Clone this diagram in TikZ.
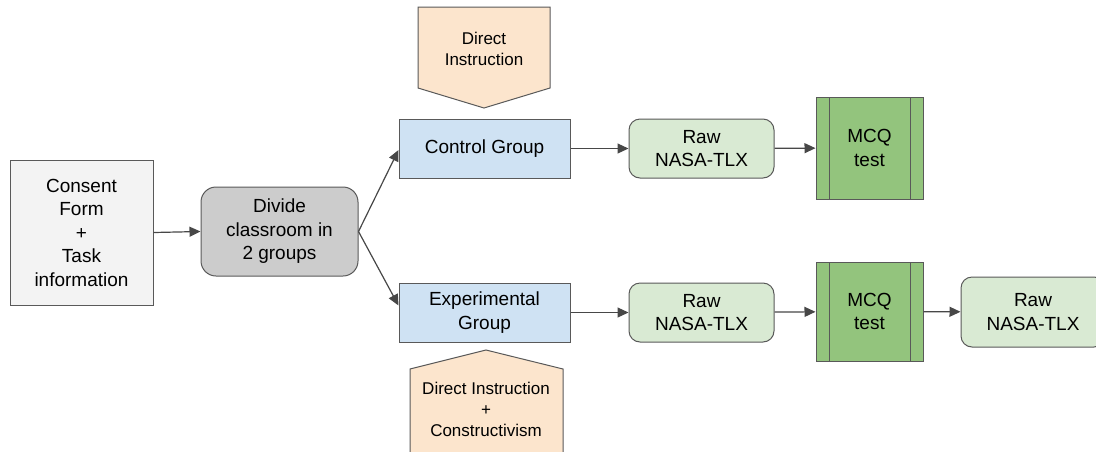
\documentclass[tikz,border=0pt]{standalone}
\usepackage{fontspec}
\setmainfont{Liberation Sans}
\usetikzlibrary{arrows.meta}
\definecolor{edgegray}{HTML}{595959}
\definecolor{consentfill}{HTML}{F3F3F3}
\definecolor{dividefill}{HTML}{CCCCCC}
\definecolor{groupfill}{HTML}{CFE2F3}
\definecolor{tlxfill}{HTML}{D9EAD3}
\definecolor{mcqfill}{HTML}{93C47D}
\definecolor{teachfill}{HTML}{FCE5CD}
\begin{document}
\begin{tikzpicture}[x = 1pt, y = -1pt,
	font = \fontsize{19}{23.5}\selectfont,
	box/.style = {draw = edgegray, line width = 1pt, align = center, inner sep = 2pt},
	tlx/.style = {box, fill = tlxfill, rounded corners = 11pt, minimum width = 145pt, minimum height = 59pt},
	mcq/.style = {box, fill = mcqfill, minimum width = 107pt,
		path picture = {\draw[edgegray, line width = 1pt]
			([xshift = 13pt]path picture bounding box.north west) -- ([xshift = 13pt]path picture bounding box.south west)
			([xshift = -13pt]path picture bounding box.north east) -- ([xshift = -13pt]path picture bounding box.south east);}},
	flow/.style = {draw = edgegray!80!black, line width = 1.2pt, -{Triangle[length = 11pt, width = 10pt]}},
	teach/.style = {draw = edgegray, line width = 1pt, fill = teachfill}]
	\useasboundingbox (0,0) rectangle (1096,451);
	% start and split
	\node[box, fill = consentfill, minimum width = 143pt, minimum height = 145pt] (consent) at (81.5,232.5) {Consent\\Form\\+\\Task\\information};
	\node[box, fill = dividefill, rounded corners = 15pt, minimum width = 157pt, minimum height = 89pt] (divide) at (279.5,231.5) {Divide\\classroom in\\2 groups};
	\node[box, fill = groupfill, minimum width = 171pt, minimum height = 59pt] (control) at (484.5,148.5) {Control Group};
	\node[box, fill = groupfill, minimum width = 171pt, minimum height = 59pt] (experimental) at (484.5,312.5) {Experimental\\Group};
	% teaching methods
	\draw[teach] (418,7) -- (550,7) -- (550,88) -- (484,108) -- (418,88) -- cycle;
	\node[font = \fontsize{17}{20.5}\selectfont, align = center] (direct) at (484,49) {Direct\\Instruction};
	\draw[teach] (486,350) -- (563,369) -- (563,460) -- (410,460) -- (410,369) -- cycle;
	\node[font = \fontsize{17}{21}\selectfont, align = center] (mixed) at (486,409) {Direct Instruction\\+\\Constructivism};
	% measurements
	\node[tlx] (tlxA) at (701.5,148.5) {Raw\\NASA-TLX};
	\node[tlx] (tlxB) at (701.5,312.5) {Raw\\NASA-TLX};
	\node[mcq, minimum height = 102pt] (mcqA) at (869.5,148) {MCQ\\test};
	\node[mcq, minimum height = 99pt] (mcqB) at (869.5,311.5) {MCQ\\test};
	\node[tlx, minimum width = 144pt, minimum height = 70pt] (tlxC) at (1033,312) {Raw\\NASA-TLX};
	% arrows
	\draw[flow] (consent.east) -- (divide.west);
	\draw[flow] (divide.east) -- ([yshift = -1.5pt]control.west);
	\draw[flow] (divide.east) -- ([yshift = 7pt]experimental.west);
	\draw[flow] (control) -- (tlxA);
	\draw[flow] (tlxA) -- (mcqA);
	\draw[flow] (experimental) -- (tlxB);
	\draw[flow] (tlxB) -- (mcqB);
	\draw[flow] (mcqB) -- (tlxC);
\end{tikzpicture}
\end{document}
